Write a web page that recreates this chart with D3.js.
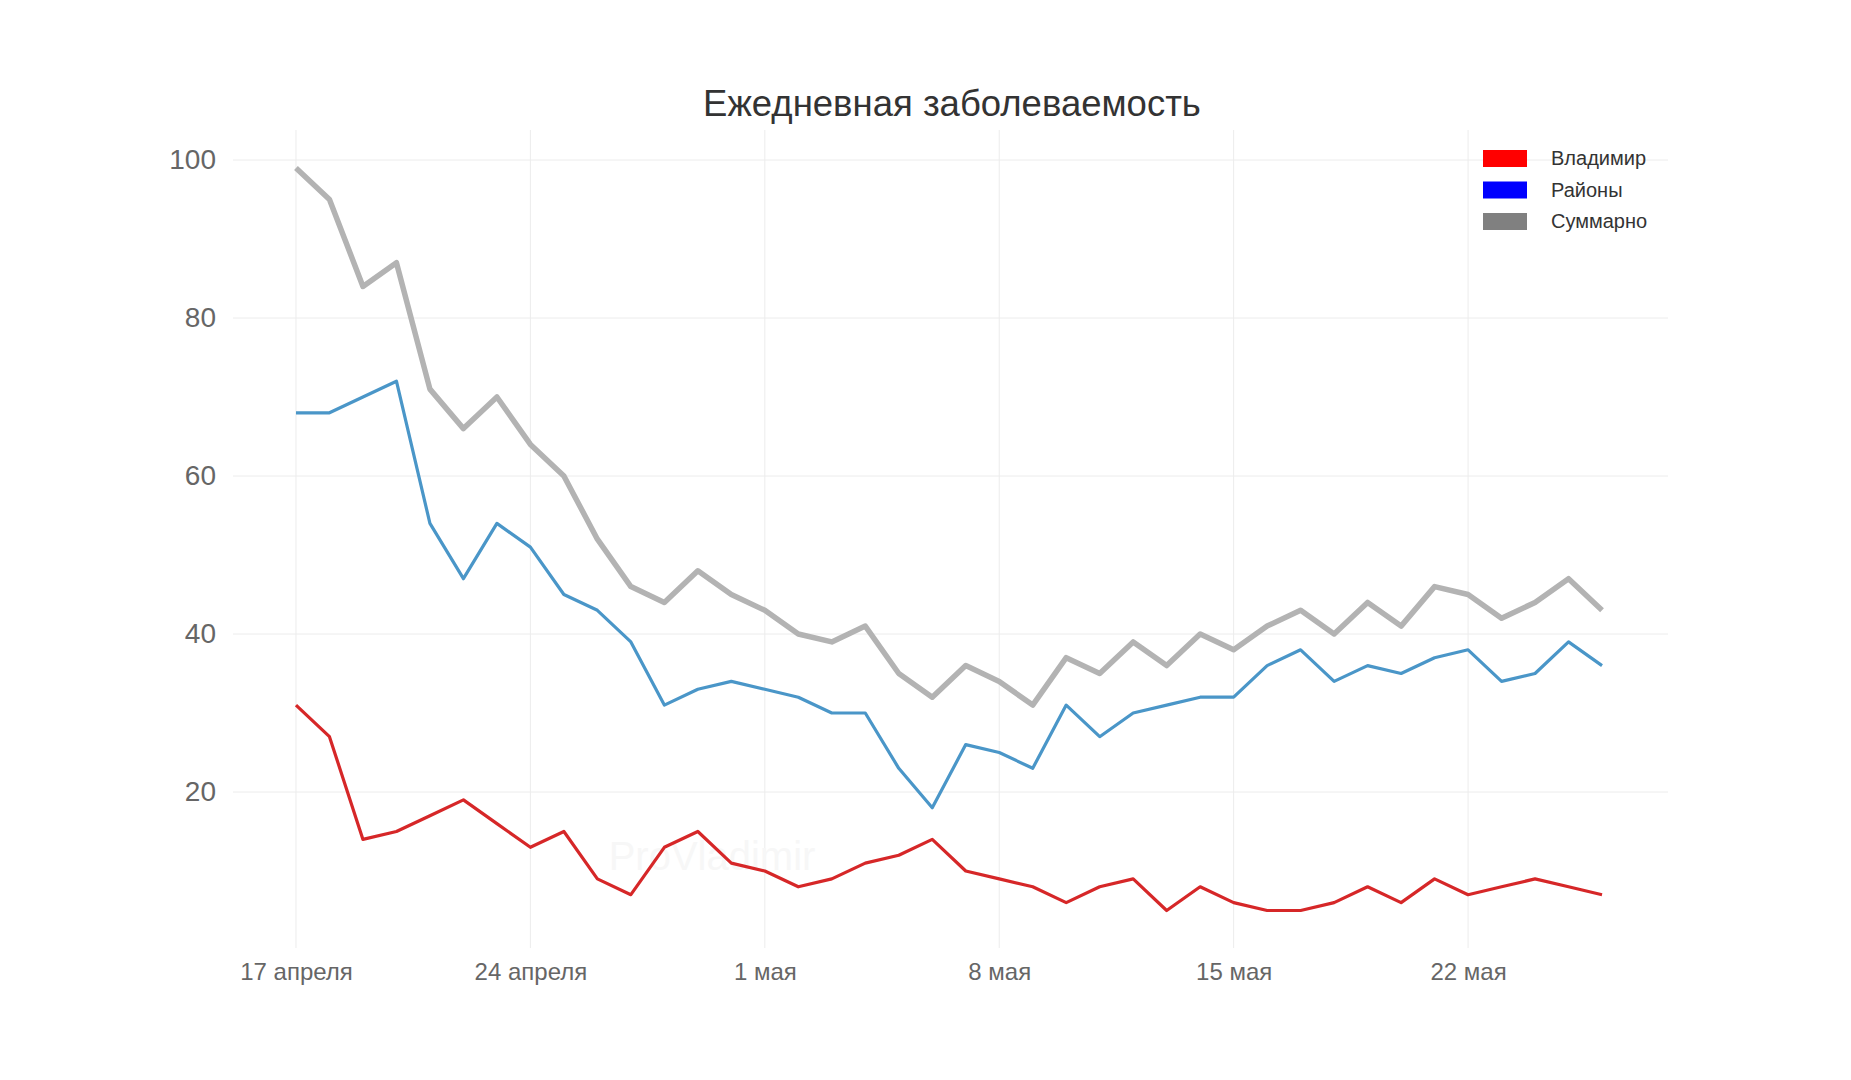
<!DOCTYPE html>
<html><head><meta charset="utf-8">
<script src="https://cdn.jsdelivr.net/npm/d3@7"></script>
<style>body{margin:0;background:#fff;font-family:"Liberation Sans",Arial,sans-serif}</style>
</head><body>
<svg id="chart" width="1851" height="1080"></svg>
<script>
// daily cases, 17 April .. 26 May
var startDate = new Date(2020, 3, 17);
var vladimir = [31,27,14,15,17,19,16,13,15,9,7,13,15,11,10,8,9,11,12,14,10,9,8,6,8,9,5,8,6,5,5,6,8,6,9,7,8,9,8,7];
var districts = [68,68,70,72,54,47,54,51,45,43,39,31,33,34,33,32,30,30,23,18,26,25,23,31,27,30,31,32,32,36,38,34,36,35,37,38,34,35,39,36];
var total = [99,95,84,87,71,66,70,64,60,52,46,44,48,45,43,40,39,41,35,32,36,34,31,37,35,39,36,40,38,41,43,40,44,41,46,45,42,44,47,43];
var yTicks = [20,40,60,80,100];
var months = ["января","февраля","марта","апреля","мая","июня"];
var legendNames = ["Владимир","Районы","Суммарно"];
var legendColors = ["#ff0000","#0000ff","#808080"];

var svg = d3.select("#chart");
var font = "'Liberation Sans', Arial, sans-serif";
var dates = total.map(function(d,i){ return d3.timeDay.offset(startDate, i); });
var x = d3.scaleTime().domain([d3.timeDay.offset(startDate,-1.9), d3.timeDay.offset(startDate,41.1)]).range([229,1669]);
var y = d3.scaleLinear().domain([0,100]).range([950,160]);

// grid
var xTicks = d3.range(0,36,7).map(function(k){ return d3.timeDay.offset(startDate,k); });
svg.append("g").selectAll("line").data(xTicks).enter().append("line")
  .attr("x1",d=>x(d)).attr("x2",d=>x(d)).attr("y1",130).attr("y2",948)
  .attr("stroke","#ececec").attr("stroke-width",1);
svg.append("g").selectAll("line").data(yTicks).enter().append("line")
  .attr("x1",233).attr("x2",1668).attr("y1",d=>y(d)).attr("y2",d=>y(d))
  .attr("stroke","#ececec").attr("stroke-width",1);

// axes
var yAxis = svg.append("g").attr("transform","translate(220,0)")
  .call(d3.axisLeft(y).tickValues(yTicks).tickSize(0).tickPadding(4));
var xAxis = svg.append("g").attr("transform","translate(0,955)")
  .call(d3.axisBottom(x).tickValues(xTicks).tickSize(0).tickPadding(8)
    .tickFormat(function(d){ return d.getDate()+" "+months[d.getMonth()]; }));
[yAxis,xAxis].forEach(function(a){
  a.select(".domain").remove();
  a.selectAll("text").attr("fill","#666").attr("font-family",font);
});
yAxis.selectAll("text").attr("font-size",28);
xAxis.selectAll("text").attr("font-size",24);

// watermark
svg.append("text").attr("x",712).attr("y",870).attr("text-anchor","middle").attr("font-family",font)
  .attr("font-size",40).attr("fill","#f7f7f7").text("ProVladimir");

// lines
var line = d3.line().x(function(d,i){ return x(dates[i]); }).y(function(d){ return y(d); });
svg.append("path").datum(total).attr("d",line).attr("fill","none")
  .attr("stroke","#b3b3b3").attr("stroke-width",5.5).attr("stroke-linejoin","round");
svg.append("path").datum(districts).attr("d",line).attr("fill","none")
  .attr("stroke","#4a96c8").attr("stroke-width",3.2).attr("stroke-linejoin","round");
svg.append("path").datum(vladimir).attr("d",line).attr("fill","none")
  .attr("stroke","#d62728").attr("stroke-width",3.2).attr("stroke-linejoin","round");

// title
svg.append("text").attr("x",952).attr("y",116).attr("text-anchor","middle").attr("font-family",font)
  .attr("font-size",36.5).attr("fill","#333").text("Ежедневная заболеваемость");

// legend
var lg = svg.append("g").selectAll("g").data(legendNames).enter().append("g")
  .attr("transform",function(d,i){ return "translate(1483,"+(150+i*31.5)+")"; });
lg.append("rect").attr("width",44).attr("height",17).attr("fill",function(d,i){ return legendColors[i]; });
lg.append("text").attr("x",68).attr("y",15).attr("font-family",font).attr("font-size",20).attr("fill","#333").text(d=>d);
</script>
</body></html>
